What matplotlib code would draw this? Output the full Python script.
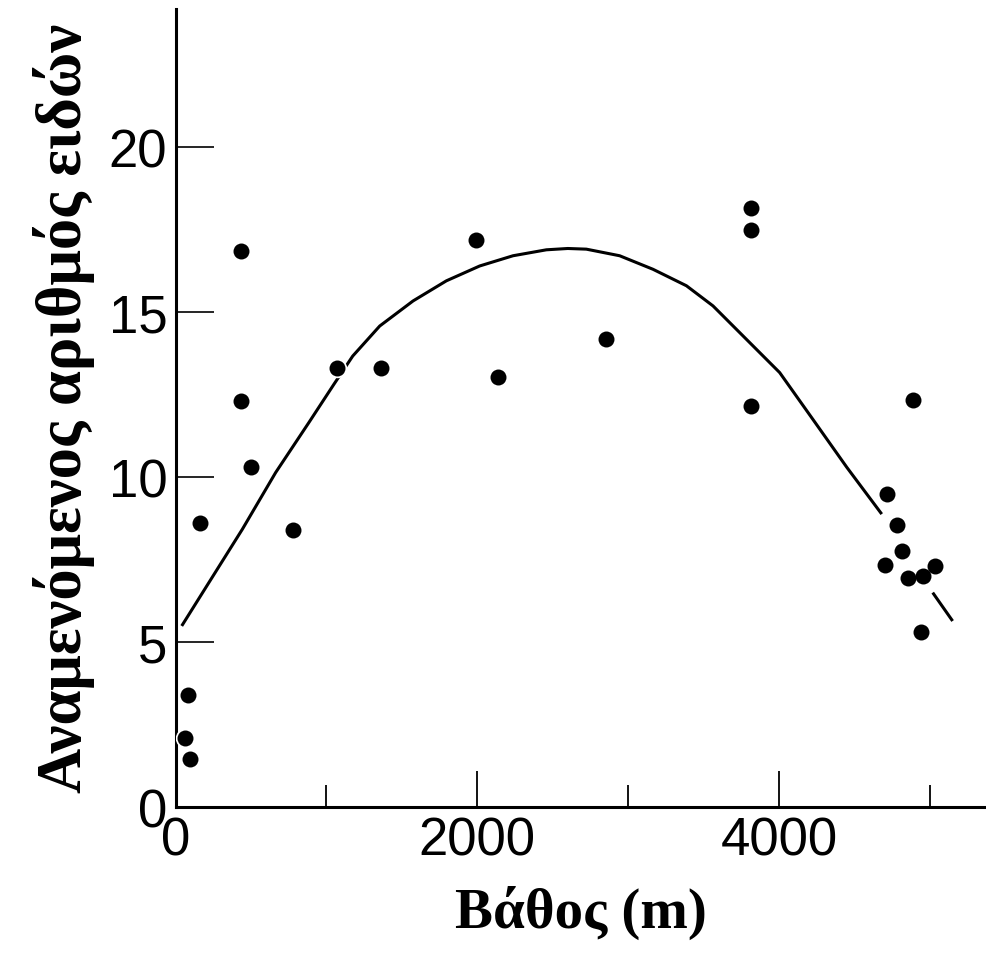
import matplotlib
matplotlib.use('Agg')
import matplotlib.pyplot as plt
from matplotlib.ticker import MultipleLocator

depth = [60, 93, 80, 159, 431, 431, 497, 776, 1068, 1359, 1989, 2135, 2851,
         3813, 3813, 3813, 4715, 4781, 4814, 4702, 4854, 4954, 5033, 4940, 4887]
species = [2.1, 1.45, 3.4, 8.6, 16.85, 12.3, 10.3, 8.4, 13.3, 13.3, 17.2, 13.05, 14.2,
           18.15, 17.5, 12.15, 9.5, 8.55, 7.76, 7.35, 6.95, 7.0, 7.3, 5.3, 12.35]

# fitted curve (main part + short tail after the cluster)
fit_x = [40, 221, 442, 663, 884, 1050, 1174, 1353, 1574, 1795, 2016, 2237, 2458,
         2600, 2723, 2944, 3165, 3387, 3563, 3784, 4005, 4224, 4450, 4682]
fit_y = [5.49, 6.81, 8.42, 10.14, 11.66, 12.82, 13.67, 14.58, 15.34, 15.95, 16.40,
         16.71, 16.89, 16.93, 16.91, 16.71, 16.30, 15.80, 15.19, 14.18, 13.17, 11.76,
         10.3, 8.88]
tail_x = [5020, 5152]
tail_y = [6.5, 5.64]

xlabel = 'Βάθος (m)'
ylabel = 'Αναμενόμενος αριθμός ειδών'

fig = plt.figure(figsize=(9.87, 9.62), dpi=100)
ax = fig.add_axes([0.178, 0.16, 0.822, 0.83])

ax.plot(fit_x, fit_y, color='black', lw=2.2, solid_capstyle='butt',
        solid_joinstyle='round', zorder=2)
ax.plot(tail_x, tail_y, color='black', lw=2.2, solid_capstyle='butt', zorder=2)
ax.plot(depth, species, 'o', color='black', ms=11.5, mec='white', mew=2.5, zorder=3)
ax.plot(depth, species, 'o', color='black', ms=11.5, mew=0, zorder=4)

ax.set_xlim(0, 5380)
ax.set_ylim(0, 24.2)

for s in ['top', 'right']:
    ax.spines[s].set_visible(False)
for s in ['left', 'bottom']:
    ax.spines[s].set_linewidth(2.2)

ax.xaxis.set_major_locator(MultipleLocator(2000))
ax.xaxis.set_minor_locator(MultipleLocator(1000))
ax.yaxis.set_major_locator(MultipleLocator(5))
ax.tick_params(axis='x', which='major', direction='in', length=26, width=1.3,
               labelsize=38, pad=6)
ax.tick_params(axis='x', which='minor', direction='in', length=16, width=1.3)
ax.tick_params(axis='y', direction='in', length=27, width=1.2, labelsize=38, pad=6)
for lab in ax.get_xticklabels() + ax.get_yticklabels():
    lab.set_family('Liberation Sans')

ax.set_xlabel(xlabel, family='Liberation Serif', weight='bold', fontsize=41, labelpad=14)
ax.set_ylabel(ylabel, family='Liberation Serif', weight='bold', fontsize=45, labelpad=10)

plt.savefig('out.png', dpi=100)
